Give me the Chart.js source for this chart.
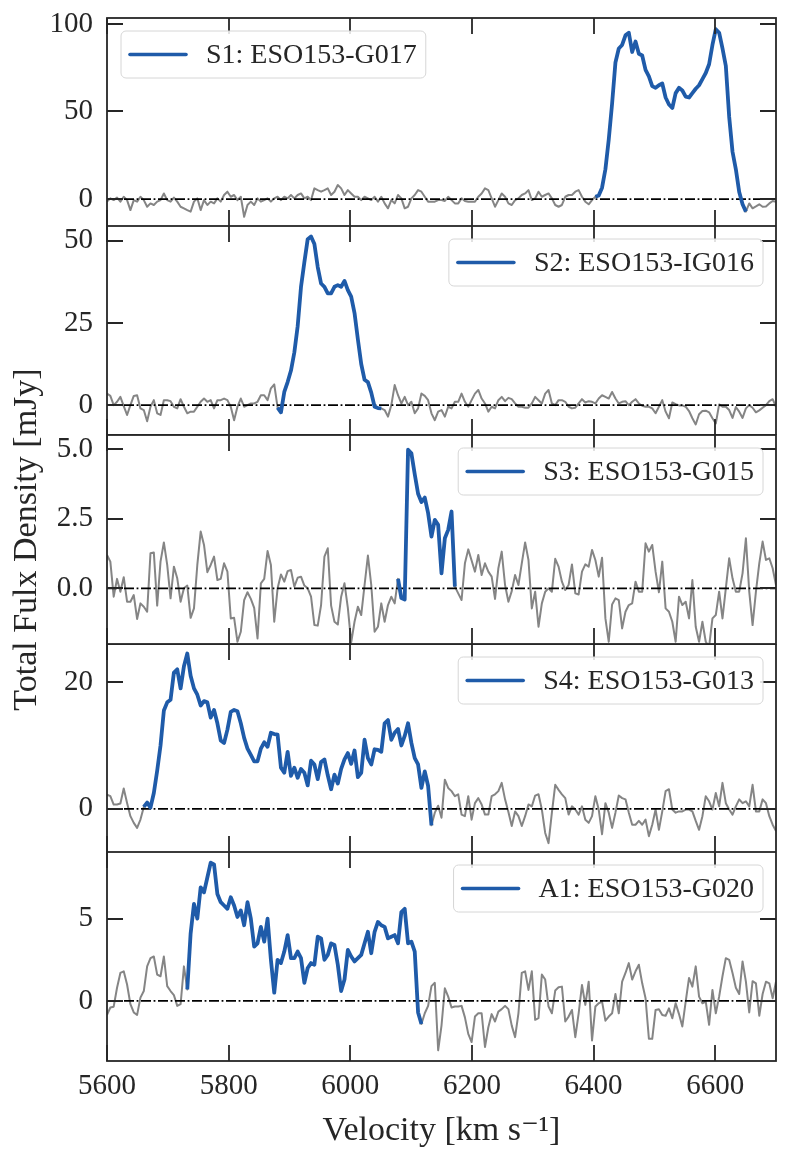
<!DOCTYPE html>
<html>
<head>
<meta charset="utf-8">
<title>Total flux density spectra</title>
<script src="https://cdn.jsdelivr.net/npm/chart.js@4.4.1/dist/chart.umd.min.js"></script>
<style>
  html, body { margin: 0; padding: 0; background: #fff; }
  #page { position: relative; width: 788px; height: 1163px; overflow: hidden; }
  #page canvas { position: absolute; left: 0; }
</style>
</head>
<body>
<div id="page">
  <canvas id="p1" width="788" height="226" style="top:0px"></canvas>
  <canvas id="p2" width="788" height="209" style="top:226px"></canvas>
  <canvas id="p4" width="788" height="208" style="top:644px"></canvas>
  <canvas id="p5" width="788" height="311" style="top:852px"></canvas>
  <canvas id="p3" width="788" height="480" style="top:300px"></canvas>
</div>
<script>
// spectral channels (km/s)
const channelStart = 5600;
const channelWidth = 5.5;
const velocity = Array.from({ length: 201 }, (_, i) => channelStart + i * channelWidth);

const xRange = [5600, 6700];
const xTicks = [5600, 5800, 6000, 6200, 6400, 6600];

// S1
const s1Label = 'S1: ESO153-G017';
const s1Detect = [6400, 6651];
const s1YRange = [-15.4, 103.4];
const s1YTicks = [0, 50, 100];
const s1Flux = [
  -1.5, 0.4, -0.6, 0.8, -1.5, 1.3, -0.6, -6.3, -0.6, -1.5,
  1.3, -0.6, -4.4, -2.5, -3.4, -1.5, -0.6, 3.2, -0.6, -1.5,
  0.8, -1.5, -4.4, -5.3, -6.3, -7.2, -1.5, 0.4, -6.3, -0.6,
  -3.4, -1.5, -2.5, 0.4, -1.5, 2.3, 4.2, 1.3, 2.3, -0.6,
  1.3, -10.1, -3.4, -1.5, -3.4, 0.4, -1.5, -0.6, 0.4, -1.5,
  0.4, 1.3, -0.6, 1.3, 0.4, 2.3, 0.4, 2.3, 3.2, 0.4,
  1.3, -0.6, 6.1, 5.1, 4.2, 5.1, 6.1, 2.3, 4.2, 8.0,
  6.1, 2.3, 5.1, 3.2, 1.3, 1.3, -0.6, 1.3, 0.4, -0.6,
  1.3, -1.5, 1.3, -2.5, -5.3, -0.6, -2.5, 2.3, 0.4, -5.3,
  -4.4, 0.4, 2.3, 5.1, 4.2, 1.3, -1.5, -1.5, -1.5, -0.6,
  -0.6, -1.1, 1.3, -0.6, -2.5, -2.5, 0.4, -1.1, -1.5, -1.5,
  -1.5, 1.3, 3.2, 6.1, 5.1, 0.4, -4.4, -0.6, 3.2, 1.3,
  -2.5, -3.4, -0.6, 0.4, 2.3, 3.2, 5.1, -0.6, 0.4, 4.2,
  1.3, 2.3, 3.2, 0.4, -3.4, -4.4, -3.4, 1.3, 2.3, 2.3,
  4.2, 5.1, 1.3, -1.5, -3.0, -0.6, 1.3, 2.0, 6.5, 17,
  34, 54.5, 78, 86, 88, 93.5, 95, 84, 90, 83,
  82, 73.8, 70, 64.5, 63.5, 65, 66, 58, 54, 52,
  60.5, 63.5, 62, 58.5, 58, 60.5, 63, 65, 68.5, 72,
  77, 88, 97, 95, 86, 76, 47, 27, 17, 4,
  -3, -7.2, -2.5, -5.3, -4.2, -3.0, -4.4, -4.2, -2.5, -1.1,
  -1.5
];

// S2
const s2Label = 'S2: ESO153-IG016';
const s2Detect = [5878, 6052];
const s2YRange = [-9.1, 54.5];
const s2YTicks = [0, 25, 50];
const s2Flux = [
  3.5, 2.8, 0, 1.0, 2.5, -0.3, -3.0, 0, 2.8, 3.0,
  -1.0, -1.5, -4.9, -0.5, 1.5, -2.5, -3.0, 1.5, 1.5, 1.2,
  -0.5, -1.0, 1.8, -0.5, -2.5, -2.0, -2.0, -0.5, 1.0, 2.0,
  1.0, 1.5, -1.0, 1.5, 1.5, 2.0, 1.5, -0.5, -4.6, -0.5,
  2.0, -0.5, 0, 0.5, 0.5, 1.0, 3.0, 3.0, 1.5, 5.1,
  6.3, -0.8, -2.2, 4, 7, 10.5, 16, 24, 36, 43.5,
  50.5, 51.3, 49, 42, 37, 36, 34, 34, 36, 36.5,
  36, 37.8, 35, 33, 28, 20, 12.5, 7.7, 7, 3.8,
  -0.5, -0.9, -1.0, -1.5, -3.5, 0, 6.1, 3.0, 0.5, 2.5,
  0, 1.0, -2.5, -1.0, 3.5, 2.8, 1.5, -2.5, -4.6, -2.0,
  -1.5, -3.5, -0.5, -1.0, 1.0, 1.0, 3.5, 1.0, -0.5, 1.5,
  3.5, 4.6, 2.0, 0.5, -2.0, -0.5, -1.0, 1.5, 2.5, 1.2,
  2.2, 1.8, 0.5, -0.5, -0.5, -0.8, -0.8, 0.5, 2.5, 1.5,
  0.5, 3.5, 4.6, 0.5, 0, 1.5, 1.5, 1.0, -0.5, -1.0,
  -0.8, 0.5, 1.8, 0.8, 1.2, 1.0, 0.5, 2.0, 3.0, 2.5,
  2.0, 4.0, 2.0, 0.5, 1.0, 1.2, 0, 1.0, 1.8, 0.5,
  -0.2, -0.5, -0.5, -1.0, -2.5, -0.5, 1.5, -2.0, -4.0, 0.8,
  0.3, -0.1, -0.1, -0.5, -1.8, -4.0, -5.9, -2.8, -1.8, -1.7,
  -2.2, -4.0, -5.6, 0.2, -0.5, -0.5, -1.5, -3.9, -0.6, -2.0,
  -3.9, -1.0, 0, -0.8, -2.2, -1.6, -0.8, 0, 1.2, 1.8,
  -0.5
];

// S3
const s3Label = 'S3: ESO153-G015';
const s3Detect = [6075, 6173];
const s3YRange = [-2.0, 5.51];
const s3YTicks = [0, 2.5, 5.0];
const s3Flux = [
  1.20, 0.96, -0.30, 0.34, -0.12, 0.40, -0.48, -0.48, -0.24, -1.10,
  -0.54, -0.66, -0.84, 1.26, 1.29, -0.62, 0.96, 1.65, 0.84, -0.36,
  0.78, 0.36, -0.48, 0.00, 0.10, -1.06, -0.72, 0.84, 2.04, 1.56,
  0.58, 0.84, 1.14, 0.30, 0.34, 0.90, 0.60, -1.08, -1.06, -1.92,
  -1.56, -0.42, -0.14, -0.38, -0.70, -1.80, 0.18, 0.34, 1.34, 0.84,
  -1.20, 0.00, 0.50, 0.24, 0.62, 0.66, 0.06, 0.38, 0.42, 0.10,
  0.00, -0.30, -1.32, -1.34, -0.60, 1.14, 1.44, -0.62, -1.20, -1.30,
  -0.30, 0.18, -0.70, -1.94, -1.20, -0.66, -0.96, 0.12, 1.18, 0.12,
  -1.56, -1.38, -0.54, -1.20, -0.60, -0.30, -0.54, 0.34, -0.35, -0.40,
  4.98, 4.85, 4.10, 3.40, 3.10, 3.26, 2.70, 1.86, 2.46, 2.28,
  0.54, 1.80, 2.10, 2.76, 0.06, -0.18, -0.42, 0.90, 1.40, 1.00,
  0.60, 1.20, 0.48, 0.90, 0.60, 0.42, -0.38, 0.72, 1.32, 0.12,
  -0.48, -0.10, 0.48, 0.12, 0.90, 1.65, 1.02, -0.72, -0.12, -1.38,
  -0.54, -0.12, 0.00, -0.12, 1.06, 0.78, 0.24, -0.06, 0.12, 0.86,
  -0.18, -0.22, 0.60, 0.86, 0.78, 1.38, 1.02, 0.42, 1.10, -1.08,
  -1.92, -0.58, -0.36, -0.42, -1.44, -0.84, -0.60, -0.54, 0.24, -0.12,
  -0.12, 1.62, 1.32, 1.56, 0.60, -0.14, 0.96, -0.72, -0.84, -1.20,
  -1.92, -0.30, -0.60, -0.48, -1.08, 0.30, -1.38, -1.92, -1.20, -1.92,
  -2.10, -1.08, -0.96, -0.12, -1.08, 0.00, 1.08, 0.36, -0.12, -0.12,
  0.54, 1.80, -0.12, -1.32, -0.12, 0.90, 1.68, 1.02, 1.08, 0.72,
  0.12
];

// S4
const s4Label = 'S4: ESO153-G013';
const s4Detect = [5659, 6134];
const s4YRange = [-6.8, 26.0];
const s4YTicks = [0, 20];
const s4Flux = [
  2.26, 2.0, 0.68, 0.7, 0.84, 3.2, 0.94, -1.15, -2.2, -3.0,
  -1.68, 0.3, 1.0, 0.2, 2.5, 6.0, 10.0, 15.5, 16.8, 17.2,
  21.5, 22.0, 19.0, 22.5, 24.5, 21.0, 19.0, 18.0, 16.3, 17.0,
  16.8, 14.4, 15.6, 13.5, 10.8, 10.4, 12.5, 15.3, 15.6, 15.4,
  13.5, 11.2, 9.5, 8.5, 7.5, 7.5, 9.5, 10.5, 9.8, 12.0,
  11.8, 11.7, 6.5, 5.7, 9.0, 5.2, 6.5, 4.9, 6.3, 5.7,
  3.7, 7.6, 7.0, 4.7, 7.4, 7.8, 5.3, 3.1, 5.4, 4.0,
  6.3, 7.8, 8.8, 7.1, 9.2, 5.0, 5.7, 10.9, 8.0, 7.0,
  9.4, 9.3, 9.0, 13.5, 14.0, 10.9, 12.0, 12.6, 10.0, 11.5,
  13.5, 10.4, 8.0, 7.0, 3.3, 5.9, 3.6, -2.6, -0.6, 0.5,
  -1.4, 4.6, 3.3, 2.8, 2.0, 2.3, -0.9, -1.15, 2.0, -1.7,
  0.9, 1.7, 0.7, -0.9, -0.9, 2.0, 2.3, 2.8, 4.1, 1.5,
  -0.5, -2.7, -0.4, -1.15, -2.7, -1.15, 0.7, 0.4, 2.1, 2.3,
  -0.1, -3.8, -5.4, -0.6, 3.8, 3.0, 2.3, 1.7, -0.9, 0.4,
  -0.1, -0.9, 0.4, -1.7, -2.2, -1.15, 2.0, -0.1, -4.0, 0.9,
  -0.6, -3.0, -0.6, 2.1, 1.7, 1.5, -0.6, -2.5, -2.5, -1.9,
  -2.5, -1.7, -4.3, -2.5, -0.1, -3.3, -0.4, 2.8, 3.1, -0.1,
  -0.6, -0.4, -0.4, -0.1, -0.1, -0.4, -1.9, -3.3, -1.15, 2.0,
  1.2, -0.1, 2.5, 0.4, 4.1, 0.9, -0.1, -0.9, 0.4, 1.5,
  0.9, 1.2, 0.4, 3.8, -0.4, -0.4, 1.5, 0.9, -1.15, -2.5,
  -3.5
];

// A1
const a1Label = 'A1: ESO153-G020';
const a1Detect = [5731, 6118];
const a1YRange = [-3.65, 9.05];
const a1YTicks = [0, 5];
const a1Flux = [
  -0.85, -0.4, -0.35, 0.8, 1.7, 1.8, 1.0, -0.2, -0.7, -0.85,
  0.2, 0.6, 2.1, 2.6, 2.7, 1.6, 1.5, 2.7, 0.9, 0.6,
  0.35, -0.3, -0.2, 2.1, 0.7, 4.1, 5.9, 5.0, 6.9, 6.6,
  7.5, 8.4, 8.3, 6.5, 6.0, 5.8, 5.6, 6.3, 5.8, 5.1,
  5.5, 4.6, 6.0, 5.0, 3.3, 3.5, 4.5, 3.6, 5.0, 2.5,
  0.5, 2.5, 2.3, 3.0, 4.0, 2.6, 2.6, 3.0, 2.6, 1.1,
  2.0, 2.3, 2.2, 3.9, 3.8, 2.5, 2.8, 3.5, 3.4, 2.2,
  0.6, 1.3, 3.1, 2.7, 2.4, 2.6, 2.8, 3.5, 4.2, 2.9,
  4.2, 4.8, 4.6, 4.5, 3.8, 3.9, 4.0, 3.5, 5.4, 5.6,
  3.5, 3.6, 3.0, -0.7, -1.4, -0.75, -0.3, 0.9, 1.1, -3.0,
  -1.5, 0.77, 0.26, -0.4, -0.34, -0.34, -0.3, -1.0, -2.0, -2.5,
  -0.95, -0.75, -0.75, -2.8, -1.6, -0.8, -1.25, -0.65, -0.5, -0.3,
  -0.5, -1.5, -2.2, -0.75, 1.7, 1.8, 0.67, 1.8, -1.15, -1.05,
  1.6, 1.3, -0.34, -0.75, 0.63, 0.83, 0.87, -1.25, -0.95, -0.55,
  -2.2, -0.75, 0.97, -0.24, 1.17, -2.4, -0.34, -0.14, -0.04, -1.2,
  -0.95, -0.75, 0.42, -0.75, 1.17, 1.7, 2.3, 1.3, 1.8, 2.2,
  1.07, 0.16, -2.3, -2.3, -0.55, -0.5, -0.85, -0.9, -0.45, -1.05,
  -0.14, -0.8, -1.55, -0.04, 1.4, 0.87, 2.1, 0.26, -0.14, -0.04,
  -1.45, 0.67, -0.75, 0.26, 1.5, 2.6, 2.5, 1.7, 0.8, 0.42,
  2.4, 1.17, -0.7, 1.2, 1.07, -0.9, 0.42, 1.17, 1.07, 0.16,
  1.17
];

const FONT = "'Liberation Serif', 'DejaVu Serif', serif";
const INK = '#262626';
const BLUE = '#1F5BA9';
const GREY = '#858585';

function roundRectPath(ctx, x, y, w, h, r) {
    ctx.beginPath();
    ctx.moveTo(x + r, y);
    ctx.arcTo(x + w, y, x + w, y + h, r);
    ctx.arcTo(x + w, y + h, x, y + h, r);
    ctx.arcTo(x, y + h, x, y, r);
    ctx.arcTo(x, y, x + w, y, r);
    ctx.closePath();
}

// frame, inward ticks on all sides and the in-axes legend
const panelDecor = {
    id: 'panelDecor',
    afterDraw(chart, args, opts) {
        const { ctx, chartArea: a } = chart;
        const xs = chart.scales.x;
        const ys = chart.scales.y;
        const tl = 16;
        ctx.save();
        ctx.strokeStyle = INK;
        ctx.lineWidth = 1.8;
        ctx.beginPath();
        xTicks.forEach(v => {
            const px = Math.round(xs.getPixelForValue(v));
            ctx.moveTo(px, a.top); ctx.lineTo(px, a.top + tl);
            ctx.moveTo(px, a.bottom); ctx.lineTo(px, a.bottom - tl);
        });
        ys.ticks.forEach(t => {
            const py = Math.round(ys.getPixelForValue(t.value));
            ctx.moveTo(a.left, py); ctx.lineTo(a.left + tl, py);
            ctx.moveTo(a.right, py); ctx.lineTo(a.right - tl, py);
        });
        ctx.stroke();
        ctx.strokeRect(a.left, a.top, a.right - a.left, a.bottom - a.top);

        // legend box
        const fs = 28;
        ctx.font = fs + 'px ' + FONT;
        const tw = ctx.measureText(opts.label).width;
        const padX = 9, handle = 56, gap = 20, h = 47;
        const w = padX + handle + gap + tw + padX;
        const bx = opts.corner === 'left' ? a.left + 14 : a.right - 13 - w;
        const by = a.top + 13;
        roundRectPath(ctx, bx, by, w, h, 5);
        ctx.fillStyle = 'rgba(255,255,255,0.85)';
        ctx.fill();
        ctx.lineWidth = 1;
        ctx.strokeStyle = '#d6d6d6';
        ctx.stroke();
        ctx.beginPath();
        ctx.strokeStyle = BLUE;
        ctx.lineWidth = 3.6;
        ctx.lineCap = 'round';
        ctx.moveTo(bx + padX, by + h / 2);
        ctx.lineTo(bx + padX + handle, by + h / 2);
        ctx.stroke();
        ctx.fillStyle = INK;
        ctx.textBaseline = 'middle';
        ctx.textAlign = 'left';
        ctx.fillText(opts.label, bx + padX + handle + gap, by + h / 2 + 1);
        ctx.restore();
    }
};

function makePanel(id, p) {
    const points = velocity.map((v, i) => ({ x: v, y: p.flux[i] }));
    const detected = points.filter(pt => pt.x >= p.detect[0] && pt.x <= p.detect[1]);
    const decimals = p.yTicks.some(v => v % 1 !== 0) ? 1 : 0;

    return new Chart(document.getElementById(id), {
        type: 'line',
        data: {
            datasets: [
                { label: p.label, data: detected, borderColor: BLUE, borderWidth: 3.8 },
                { label: 'zero', data: [{ x: xRange[0], y: 0 }, { x: xRange[1], y: 0 }],
                  borderColor: '#000', borderWidth: 1.8, borderDash: [10, 2.6, 1.8, 2.6] },
                { label: 'spectrum', data: points, borderColor: GREY, borderWidth: 2 }
            ]
        },
        options: {
            responsive: false,
            animation: false,
            events: [],
            layout: { padding: { left: 0, right: 12, top: p.padTop || 0, bottom: p.padBottom || 0 } },
            elements: {
                point: { radius: 0 },
                line: { tension: 0, borderJoinStyle: 'round', fill: false }
            },
            datasets: { line: { clip: 0 } },
            plugins: {
                legend: { display: false },
                tooltip: { enabled: false },
                panelDecor: { label: p.label, corner: p.corner }
            },
            scales: {
                x: {
                    type: 'linear',
                    min: xRange[0],
                    max: xRange[1],
                    display: !!p.showX,
                    afterBuildTicks: s => { s.ticks = xTicks.map(v => ({ value: v })); },
                    afterFit: s => {
                        s.height = p.showX ? 102 : 0;
                        s.paddingLeft = 0; s.paddingRight = 0;
                    },
                    grid: { display: false, drawTicks: false },
                    border: { display: false },
                    ticks: { color: INK, font: { family: FONT, size: 29 }, padding: 8,
                             maxRotation: 0, autoSkip: false, callback: v => String(v) },
                    title: { display: true, text: 'Velocity [km s\u207B\u00B9]', color: INK,
                             font: { family: FONT, size: 34 }, padding: { top: 0, bottom: 12 } }
                },
                y: {
                    type: 'linear',
                    min: p.yRange[0],
                    max: p.yRange[1],
                    afterBuildTicks: s => { s.ticks = p.yTicks.map(v => ({ value: v })); },
                    afterFit: s => {
                        s.width = 107;
                        s.paddingTop = 0; s.paddingBottom = 0;
                    },
                    grid: { display: false, drawTicks: false },
                    border: { display: false },
                    ticks: { color: INK, font: { family: FONT, size: 29 }, padding: 14,
                             callback: v => Number(v).toFixed(decimals) },
                    title: { display: !!p.showYTitle, text: 'Total Fulx Density [mJy]', color: INK,
                             font: { family: FONT, size: 34 }, padding: { top: 7, bottom: 0 } }
                }
            }
        },
        plugins: [panelDecor]
    });
}

makePanel('p1', { label: s1Label, flux: s1Flux, detect: s1Detect, yRange: s1YRange, yTicks: s1YTicks,
                  corner: 'left', padTop: 18 });
makePanel('p2', { label: s2Label, flux: s2Flux, detect: s2Detect, yRange: s2YRange, yTicks: s2YTicks,
                  corner: 'right' });
makePanel('p3', { label: s3Label, flux: s3Flux, detect: s3Detect, yRange: s3YRange, yTicks: s3YTicks,
                  corner: 'right', padTop: 135, padBottom: 136, showYTitle: true });
makePanel('p4', { label: s4Label, flux: s4Flux, detect: s4Detect, yRange: s4YRange, yTicks: s4YTicks,
                  corner: 'right' });
makePanel('p5', { label: a1Label, flux: a1Flux, detect: a1Detect, yRange: a1YRange, yTicks: a1YTicks,
                  corner: 'right', showX: true });
</script>
</body>
</html>
